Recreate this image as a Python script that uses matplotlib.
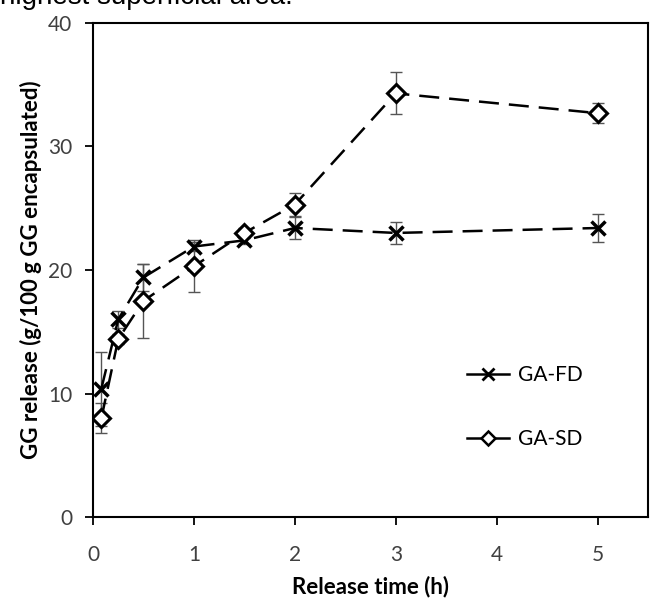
import matplotlib
matplotlib.use("Agg")
import matplotlib.pyplot as plt
from matplotlib.lines import Line2D

time_h = [0.083, 0.25, 0.5, 1.0, 1.5, 2.0, 3.0, 5.0]
ga_fd = [10.4, 16.0, 19.4, 21.9, 22.4, 23.4, 23.0, 23.4]
ga_fd_err = [3.0, 0.7, 1.1, 0.4, 0.3, 0.9, 0.9, 1.1]
ga_sd = [8.0, 14.4, 17.5, 20.3, 23.0, 25.3, 34.3, 32.7]
ga_sd_err = [1.2, 0.4, 3.0, 2.1, 0.4, 0.9, 1.7, 0.8]
x_ticks = [0, 1, 2, 3, 4, 5]
y_ticks = [0, 10, 20, 30, 40]

plt.rcParams['font.family'] = ['Lato', 'DejaVu Sans']

fig = plt.figure(figsize=(6.51, 5.99), dpi=100)
ax = fig.add_axes([93/651, (599-517)/599, (648-93)/651, (517-23)/599])

dash = (0, (8, 4))
ax.errorbar(time_h, ga_fd, yerr=ga_fd_err, fmt='none', ecolor='#555555',
            elinewidth=1, capsize=4, capthick=1, zorder=2)
ax.errorbar(time_h, ga_sd, yerr=ga_sd_err, fmt='none', ecolor='#555555',
            elinewidth=1, capsize=4, capthick=1, zorder=2)
ax.plot(time_h, ga_fd, color='black', lw=1.8, linestyle=dash, marker='x',
        markersize=10, markeredgewidth=2.5, zorder=3)
ax.plot(time_h, ga_sd, color='black', lw=1.8, linestyle=dash, marker='D',
        markersize=9, markeredgewidth=2.2, markerfacecolor='white', zorder=4)

ax.set_xlim(0, 5.5)
ax.set_ylim(0, 40)
ax.set_xticks(x_ticks)
ax.set_yticks(y_ticks)
ax.tick_params(direction='out', length=6, width=1.3, labelsize=15,
               labelcolor='#404040')
ax.tick_params(axis='x', pad=14)
ax.tick_params(axis='y', pad=9)
for s in ax.spines.values():
    s.set_linewidth(1.5)
    s.set_color('black')

ax.set_xlabel('Release time (h)', fontsize=16, fontweight='bold', labelpad=8)
ax.set_ylabel('GG release (g/100 g GG encapsulated)', fontsize=16,
              fontweight='bold', labelpad=4)

handles = [
    Line2D([], [], color='black', lw=1.8, marker='x', markersize=8,
           markeredgewidth=2),
    Line2D([], [], color='black', lw=1.8, marker='D', markersize=7,
           markeredgewidth=1.8, markerfacecolor='white'),
]
ax.legend(handles, ['GA-FD', 'GA-SD'], frameon=False, fontsize=15,
          loc='upper left', bbox_to_anchor=(0.64, 0.345), labelspacing=2.1,
          handlelength=2.0, handletextpad=0.45)

fig.text(0.0, 1 - 4/599, 'highest superficial area.', fontsize=20,
         family=['Liberation Sans', 'DejaVu Sans'], va='baseline', ha='left')

fig.savefig('out.png', dpi=100)
